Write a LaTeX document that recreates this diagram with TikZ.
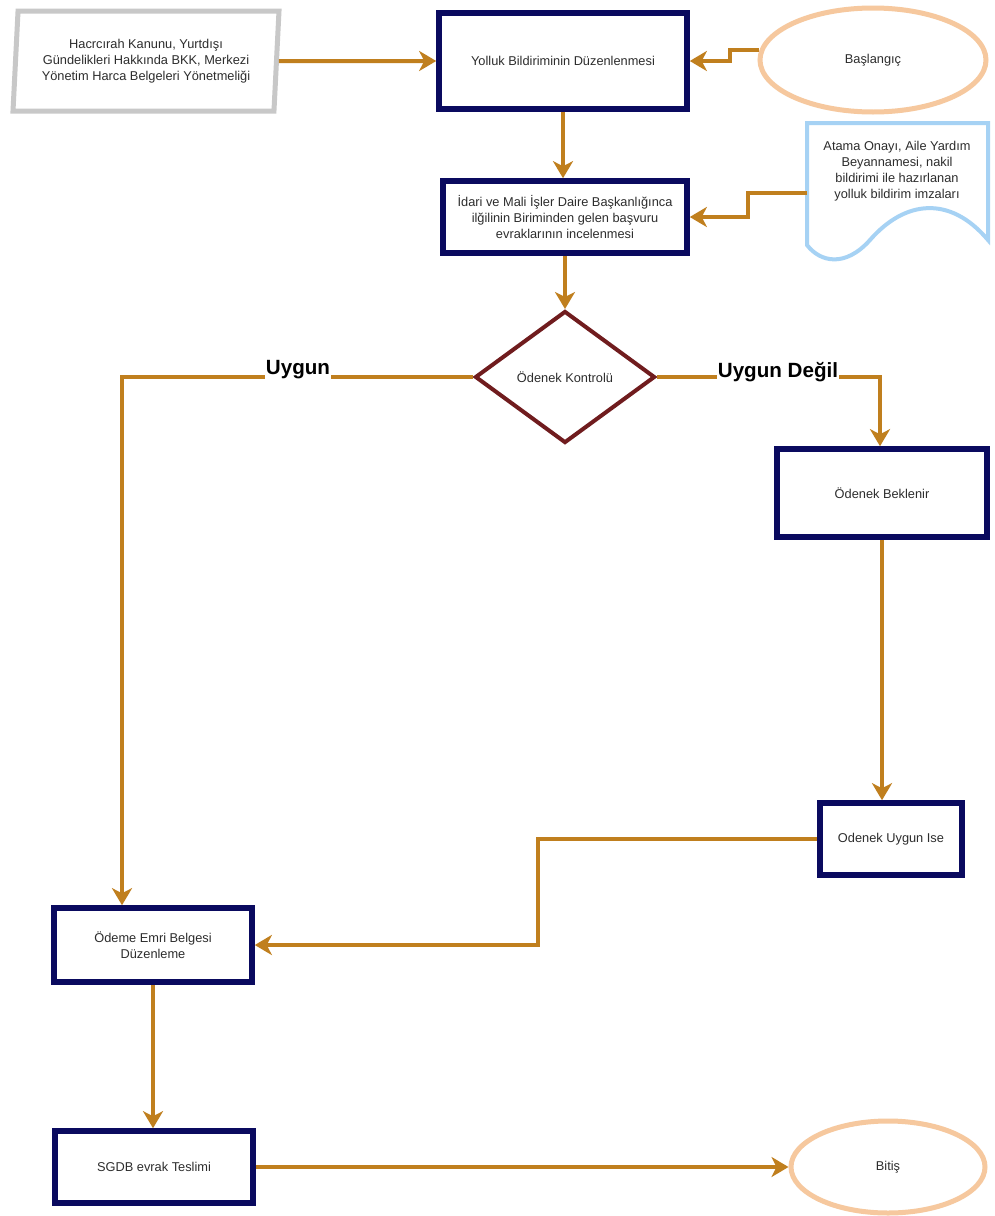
\documentclass[tikz,border=0pt]{standalone}
\usepackage{fontspec}
\setmainfont{Liberation Sans}
\usetikzlibrary{arrows.meta,positioning,calc,shapes.geometric}
\definecolor{navy}{RGB}{10,10,95}
\definecolor{okc}{RGB}{192,127,30}
\definecolor{wine}{RGB}{112,28,30}
\definecolor{peach}{RGB}{246,200,158}
\definecolor{sky}{RGB}{166,210,244}
\definecolor{gri}{RGB}{200,200,200}
\definecolor{yazi}{RGB}{45,45,45}
\newcommand{\kucuk}{\fontsize{6.4}{8}\selectfont}

\begin{document}
\begin{tikzpicture}[x=0.5pt,y=-0.5pt,>={Stealth[length=8.5pt,width=10pt,inset=2.5pt]},
box/.style={draw=navy,line width=2.8pt,fill=white,align=center,inner sep=1pt,text=yazi,font=\kucuk},
oval/.style={ellipse,draw=peach,line width=2.5pt,fill=white,text=yazi,font=\kucuk},
akis/.style={draw=okc,line width=2pt,->},
lbl/.style={fill=white,inner sep=0.5pt,font=\fontsize{10.3}{12}\selectfont\bfseries}]
\fill[white] (0,0) rectangle (995,1216);
\useasboundingbox (0,0) rectangle (995,1216);
\node[trapezium,trapezium left angle=84,trapezium right angle=96,trapezium stretches body,draw=gri,line width=2.5pt,fill=white,minimum width=133pt,minimum height=50pt,inner sep=1pt,align=center,text=yazi,font=\kucuk] (mev) at (146,61) {Hacrcırah Kanunu, Yurtdışı\\Gündelikleri Hakkında BKK, Merkezi\\Yönetim Harca Belgeleri Yönetmeliği};
\node[box,minimum width=124pt,minimum height=48pt] (yb) at (563,61) {Yolluk Bildiriminin Düzenlenmesi};
\node[oval,minimum width=113pt,minimum height=52pt] (bas) at (873,60) {Başlangıç};
\node[box,minimum width=122pt,minimum height=36pt] (inc) at (565,217) {İdari ve Mali İşler Daire Başkanlığınca\\ilğilinin Biriminden gelen başvuru\\evraklarının incelenmesi};
\draw[sky,line width=2pt,fill=white] (807,123) -- (988,123) -- (988,240) .. controls (950,195) and (905,200) .. (870,240) .. controls (845,268) and (820,262) .. (807,245) -- cycle;
\node[text=yazi,align=center,font=\kucuk] (atm) at (897,171) {Atama Onayı, Aile Yardım\\Beyannamesi, nakil\\bildirimi ile hazırlanan\\yolluk bildirim imzaları};
\node[diamond,draw=wine,line width=2pt,fill=white,minimum width=90pt,minimum height=66pt,inner sep=0pt,text=yazi,font=\kucuk] (kon) at (565,377) {Ödenek Kontrolü};
\node[box,minimum width=105pt,minimum height=44pt] (bek) at (882,493) {Ödenek Beklenir};
\node[box,minimum width=71pt,minimum height=36pt] (ise) at (891,839) {Odenek Uygun Ise};
\node[box,minimum width=99pt,minimum height=37pt] (emr) at (153,945) {Ödeme Emri Belgesi\\Düzenleme};
\node[box,minimum width=99pt,minimum height=36pt] (sgd) at (154,1167) {SGDB evrak Teslimi};
\node[oval,minimum width=97pt,minimum height=46pt] (bit) at (888,1167) {Bitiş};
\coordinate (j1) at (730,55);
\coordinate (j2) at (748,205);
\coordinate (atmw) at (807,193);
\coordinate (sol) at (122,377);
\coordinate (sag) at (880,377);
\coordinate (j3) at (538,890);
\draw[akis] (mev.east) -- (yb.west);
\draw[akis] (bas.175) -| (j1) |- (yb.east);
\draw[akis] (yb.south) -- (yb.south |- inc.north);
\draw[akis] (atmw) -| (j2) |- (inc.east);
\draw[akis] (inc) -- (kon);
\draw[akis] (kon.west) -- (sol) -- (sol |- emr.north);
\draw[akis] (kon.east) -- (sag) -- (sag |- bek.north);
\draw[akis] (bek.south) -- (bek.south |- ise.north);
\draw[akis] (ise.west) -| (j3) |- (emr.east);
\draw[akis] (emr.south) -- (emr.south |- sgd.north);
\draw[akis] (sgd.east) -- (bit.west);
\node[lbl] (uy) at (298,370) {Uygun};
\node[lbl] (ud) at (778,372) {Uygun Değil};
\end{tikzpicture}
\end{document}
